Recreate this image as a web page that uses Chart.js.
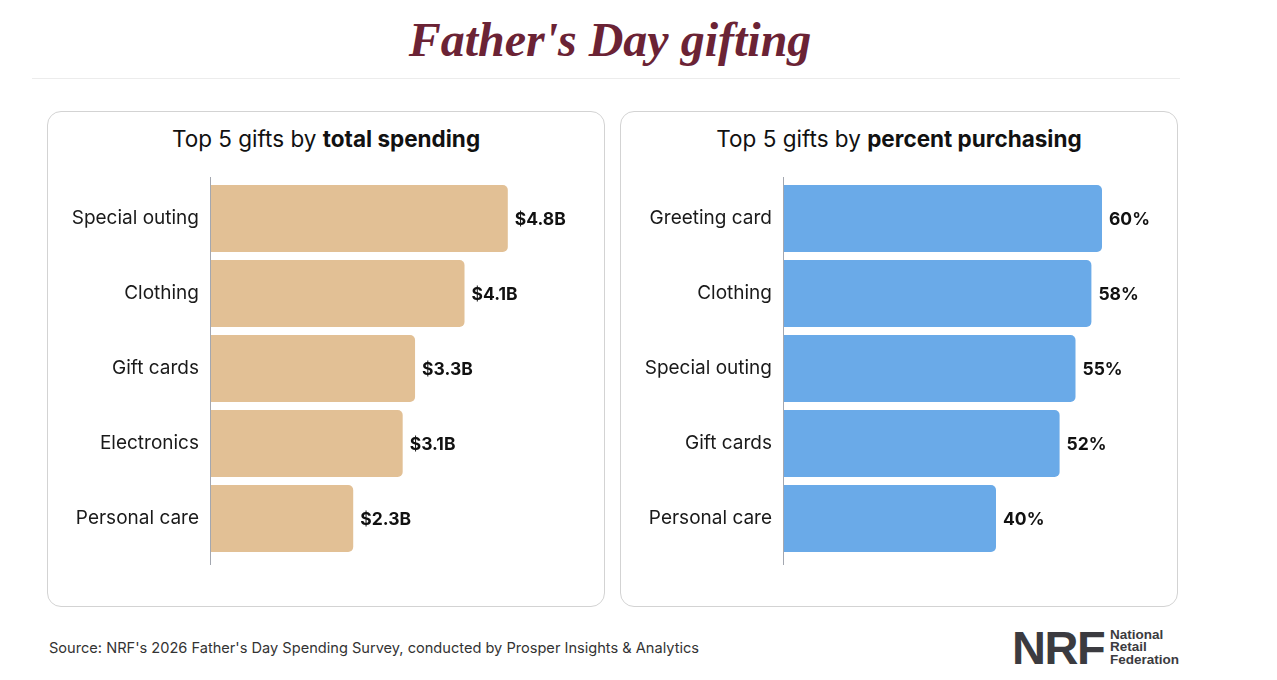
<!DOCTYPE html>
<html>
<head>
<meta charset="utf-8">
<script src="https://cdn.jsdelivr.net/npm/chart.js@4.4.1/dist/chart.umd.min.js"></script>
<style>
  body { margin: 0; background: #fff; font-family: Inter, "Noto Sans", sans-serif; color: #1a1a1a; }
  #page { position: relative; width: 1277px; height: 680px; overflow: hidden; }
  h1 { position: absolute; left: 0; width: 1220px; top: 12px; margin: 0; text-align: center;
       font-family: "Liberation Serif", serif; font-style: italic; font-weight: 700; font-size: 48px; color: #6b2335; }
  .rule { position: absolute; left: 32px; top: 78px; width: 1148px; height: 1px; background: #ececec; }
  .panel { position: absolute; top: 111px; width: 556px; height: 494px; border: 1px solid #d3d3d3; border-radius: 14px; }
  .panel h2 { margin: 0; position: absolute; top: 13px; left: 0; width: 100%; text-align: center;
              font-size: 22.5px; font-weight: 400; color: #111; }
  .panel h2 b { font-weight: 700; }
  .panel .box { position: absolute; left: 0; top: 54px; width: 556px; height: 400px; }
  .source { position: absolute; left: 49px; top: 639px; font-size: 14.6px; color: #333; }
  .logo { position: absolute; left: 1012px; top: 624px; display: flex; align-items: center; color: #3b3b40; }
  .logo .big { font-family: "Liberation Sans", sans-serif; font-weight: 700; font-size: 47px; letter-spacing: -1.5px; line-height: 47px; }
  .logo .small { font-family: "Liberation Sans", sans-serif; font-weight: 700; font-size: 13.5px; line-height: 12.5px; margin-left: 6px; }
</style>
</head>
<body>
<div id="page">
  <h1>Father's Day gifting</h1>
  <div class="rule"></div>
  <div class="panel" style="left:47px">
    <h2>Top 5 gifts by <b>total spending</b></h2>
    <div class="box"><canvas id="spendChart"></canvas></div>
  </div>
  <div class="panel" style="left:620px">
    <h2>Top 5 gifts by <b>percent purchasing</b></h2>
    <div class="box"><canvas id="pctChart"></canvas></div>
  </div>
  <div class="source">Source: NRF's 2026 Father's Day Spending Survey, conducted by Prosper Insights &amp; Analytics</div>
  <div class="logo"><span class="big">NRF</span><span class="small">National<br>Retail<br>Federation</span></div>
</div>
<script>
// total spending, billions of dollars
const spendLabels = ['Special outing', 'Clothing', 'Gift cards', 'Electronics', 'Personal care'];
const spendValues = [4.8, 4.1, 3.3, 3.1, 2.3];

// percent of people purchasing
const pctLabels = ['Greeting card', 'Clothing', 'Special outing', 'Gift cards', 'Personal care'];
const pctValues = [60, 58, 55, 52, 40];

const labelFont = 'Inter, "Noto Sans", sans-serif';

// value text at the end of each bar + axis line that runs a bit past the bars
const barExtras = {
    id: 'barExtras',
    afterDatasetsDraw(chart, args, opts) {
        const ctx = chart.ctx;
        const area = chart.chartArea;
        ctx.save();
        ctx.strokeStyle = '#a3a7b0';
        ctx.lineWidth = 1;
        ctx.beginPath();
        ctx.moveTo(area.left - 0.5, area.top - 4);
        ctx.lineTo(area.left - 0.5, area.bottom + 9);
        ctx.stroke();

        ctx.font = '700 17.5px ' + labelFont;
        ctx.fillStyle = '#111';
        ctx.textBaseline = 'middle';
        ctx.textAlign = 'left';
        const data = chart.data.datasets[0].data;
        chart.getDatasetMeta(0).data.forEach((bar, i) => {
            ctx.fillText(opts.format(data[i]), bar.x + 7, bar.y + 1);
        });
        ctx.restore();
    }
};

function makeChart(canvasId, labels, values, color, max, format) {
    const ctx = document.getElementById(canvasId).getContext('2d');
    return new Chart(ctx, {
        type: 'bar',
        data: {
            labels: labels,
            datasets: [{
                data: values,
                backgroundColor: color,
                borderRadius: { topRight: 5, bottomRight: 5, topLeft: 0, bottomLeft: 0 },
                borderSkipped: false,
                barPercentage: 0.893,
                categoryPercentage: 1
            }]
        },
        options: {
            indexAxis: 'y',
            responsive: true,
            maintainAspectRatio: false,
            animation: false,
            layout: { padding: { top: 15, bottom: 10, right: 22, left: 0 } },
            plugins: {
                legend: { display: false },
                tooltip: { enabled: false },
                barExtras: { format: format }
            },
            scales: {
                x: { display: false, min: 0, max: max },
                y: {
                    grid: { display: false },
                    border: { display: false },
                    ticks: {
                        padding: 4,
                        color: '#1a1a1a',
                        font: { family: labelFont, size: 19 }
                    },
                    afterFit: (scale) => {
                        scale.width = 163;
                        scale.paddingTop = 0;
                        scale.paddingBottom = 0;
                    }
                }
            }
        },
        plugins: [barExtras]
    });
}

makeChart('spendChart', spendLabels, spendValues, '#e2c095', 6, v => '$' + v.toFixed(1) + 'B');
makeChart('pctChart', pctLabels, pctValues, '#6aaae8', 70, v => v + '%');
</script>
</body>
</html>
